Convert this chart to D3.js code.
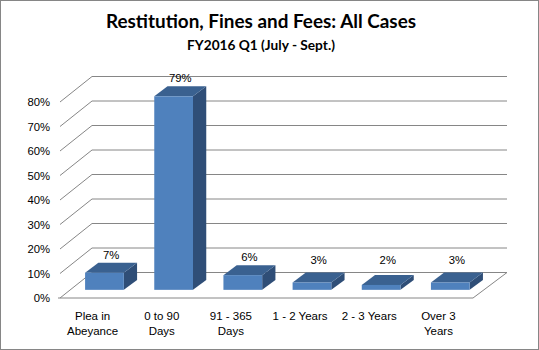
<!DOCTYPE html>
<html><head><meta charset="utf-8">
<script src="https://cdn.jsdelivr.net/npm/d3@7"></script>
<style>body{margin:0;background:#fff}svg{display:block}</style>
</head><body>
<script>
const categories = ["Plea in\nAbeyance", "0 to 90\nDays", "91 - 365\nDays", "1 - 2 Years", "2 - 3 Years", "Over 3\nYears"];
const values = [0.07, 0.79, 0.06, 0.03, 0.02, 0.03];
const valueLabels = ["7%", "79%", "6%", "3%", "2%", "3%"];
const tickValues = [0, 0.1, 0.2, 0.3, 0.4, 0.5, 0.6, 0.7, 0.8];
const title = "Restitution, Fines and Fees: All Cases";
const subtitle = "FY2016 Q1 (July - Sept.)";

const W = 539, H = 350;
const svg = d3.select("body").append("svg").attr("width", W).attr("height", H);
svg.append("rect").attr("x",0.5).attr("y",0.5).attr("width",W-1).attr("height",H-1)
  .attr("fill","#fff").attr("stroke","#868686");

const DX = 34, DY = 25.5;
const f1 = 0.32, f2 = 0.71;

const x = d3.scaleBand().domain(categories).range([58, 473]).paddingInner(0.44).paddingOuter(0.22);
const y = d3.scaleLinear().domain([0, 0.8]).range([298, 102]);

const gridColor = "#868686";
const grid = svg.append("g");
tickValues.forEach(t => {
  grid.append("path")
    .attr("d", `M${58+2},${y(t)} L${58+DX},${y(t)-DY} L${473+DX},${y(t)-DY}`)
    .attr("fill","none").attr("stroke", gridColor).attr("stroke-width",1);
});
svg.append("path")
  .attr("d", `M58,${y(0)} L473,${y(0)} L${473+DX},${y(0)-DY}`)
  .attr("fill","none").attr("stroke", gridColor).attr("stroke-width",1);

const yAxis = d3.axisLeft(y).tickValues(tickValues).tickSize(0).tickPadding(0)
  .tickFormat(d3.format(".0%"));
const ax = svg.append("g").attr("transform","translate(50,0)").call(yAxis);
ax.select(".domain").remove();
ax.selectAll("text").attr("font-family","Liberation Sans, Arial, sans-serif")
  .attr("font-size","11.3px").attr("fill","#000");

const frontColor = "#4F81BD", topColor = "#3A6190", sideColor = "#2F4E77";
const bars = svg.append("g");
categories.forEach((c, i) => {
  const x0 = x(c) + f1*DX + 1, w = x.bandwidth();
  const yb = y(0) - f1*DY, yt = y(values[i]) - f1*DY;
  const ddx = (f2-f1)*DX, ddy = (f2-f1)*DY;
  bars.append("path").attr("d",
    `M${x0+w},${yt} L${x0+w+ddx},${yt-ddy} L${x0+w+ddx},${yb-ddy} L${x0+w},${yb} Z`)
    .attr("fill", sideColor);
  bars.append("path").attr("d",
    `M${x0},${yt} L${x0+ddx},${yt-ddy} L${x0+w+ddx},${yt-ddy} L${x0+w},${yt} Z`)
    .attr("fill", topColor);
  bars.append("rect").attr("x", x0).attr("y", yt).attr("width", w).attr("height", yb-yt)
    .attr("fill", frontColor);
  svg.append("text").attr("x", x0 + w/2 + ddx/2).attr("y", Math.min(yt - ddy - 4, y(0) - 34))
    .attr("text-anchor","middle").attr("font-family","Liberation Sans, Arial, sans-serif")
    .attr("font-size","11.3px").attr("fill","#000").text(valueLabels[i]);
});

categories.forEach(c => {
  const cx = x(c) + x.bandwidth()/2;
  const t = svg.append("text").attr("text-anchor","middle")
    .attr("font-family","Liberation Sans, Arial, sans-serif").attr("font-size","11.5px").attr("fill","#000");
  c.split("\n").forEach((line, j) => {
    t.append("tspan").attr("x", cx).attr("y", 320 + j*15).text(line);
  });
});

svg.append("text").attr("x", 261).attr("y", 28).attr("text-anchor","middle")
  .attr("font-family","Lato, sans-serif").attr("font-weight","bold").attr("font-size","18.9px")
  .attr("fill","#000").text(title);
svg.append("text").attr("x", 261).attr("y", 50).attr("text-anchor","middle")
  .attr("font-family","Lato, sans-serif").attr("font-weight","bold").attr("font-size","13.7px")
  .attr("fill","#000").text(subtitle);
</script>
</body></html>
